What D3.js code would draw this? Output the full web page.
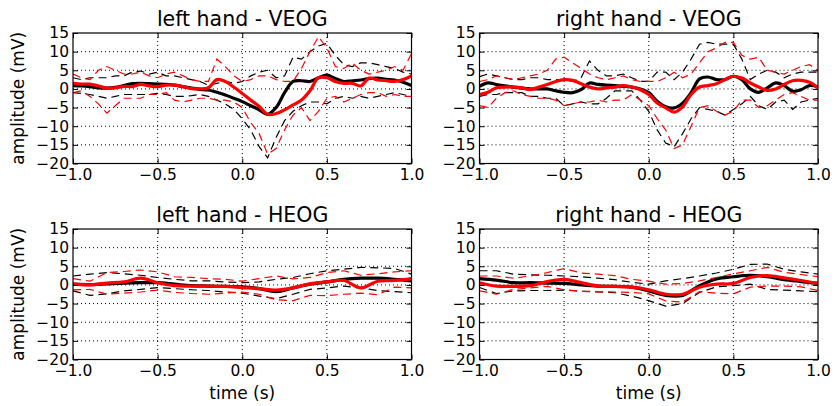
<!DOCTYPE html>
<html>
<head>
<meta charset="utf-8">
<script src="https://cdn.jsdelivr.net/npm/d3@7"></script>
<style>
  body { margin: 0; background: #fff; }
  svg { display: block; font-family: "DejaVu Sans", sans-serif; }
</style>
</head>
<body>
<div id="chart"></div>
<script>
// time axes (s)
const timeFine = [-1.00,-0.95,-0.90,-0.85,-0.80,-0.75,-0.70,-0.65,-0.60,-0.55,-0.50,-0.45,-0.40,-0.35,-0.30,-0.25,-0.20,-0.15,-0.10,-0.05,
  0.00,0.05,0.10,0.15,0.20,0.25,0.30,0.35,0.40,0.45,0.50,0.55,0.60,0.65,0.70,0.75,0.80,0.85,0.90,0.95,1.00];
const timeCoarse = [-1.0,-0.9,-0.8,-0.7,-0.6,-0.5,-0.4,-0.3,-0.2,-0.1,0.0,0.1,0.2,0.3,0.4,0.5,0.6,0.7,0.8,0.9,1.0];

const xTicks = [-1.0, -0.5, 0.0, 0.5, 1.0];
const yTicks = [-20, -15, -10, -5, 0, 5, 10, 15];
const panelTitles = ["left hand - VEOG", "right hand - VEOG", "left hand - HEOG", "right hand - HEOG"];

// left hand - VEOG
const leftVeogBlackMean = [0.9,0.8,0.6,0.3,0.2,0.4,0.9,1.4,1.5,1.4,1.3,1.2,1.0,0.6,0.2,-0.1,-0.3,-0.9,-1.6,-2.5,
  -3.4,-4.5,-5.6,-6.8,-5.0,-1.0,2.0,2.2,2.0,3.0,3.7,2.8,2.0,2.2,2.4,2.8,2.9,2.6,2.4,1.8,0.9];
const leftVeogBlackUpper = [3.0,2.5,3.0,3.0,3.0,3.5,3.5,4.5,4.8,4.0,4.5,3.5,3.5,3.0,2.5,2.0,1.0,1.5,2.0,1.5,
  2.0,3.5,4.5,5.0,3.0,3.5,8.5,8.0,10.0,11.5,12.2,9.0,6.5,6.0,7.0,7.0,6.5,6.0,5.5,4.5,4.0];
const leftVeogBlackLower = [-1.0,-1.2,-1.5,-2.0,-2.5,-2.0,-1.5,-1.5,-1.5,-1.5,-1.2,-1.5,-2.0,-2.0,-1.8,-1.5,-2.0,-3.0,-4.0,-5.5,
  -8.0,-11.0,-15.5,-18.5,-13.0,-8.5,-6.0,-4.5,-3.5,-3.5,-4.0,-2.5,-2.0,-2.5,-2.0,-2.5,-2.0,-1.5,-1.0,-1.5,-2.0];
const leftVeogRedMean = [1.5,1.3,1.3,0.8,0.2,0.3,0.7,0.6,1.2,0.8,0.6,1.0,1.0,0.6,0.1,0.0,0.3,2.5,2.0,0.5,
  -1.2,-3.0,-4.7,-6.8,-6.6,-5.6,-4.3,-3.0,-0.5,3.0,3.0,2.0,1.5,1.5,0.8,2.9,2.4,2.2,2.0,2.5,3.5];
const leftVeogRedUpper = [4.0,3.0,2.5,5.0,6.0,5.0,4.0,4.0,4.5,3.5,3.0,4.0,4.5,3.5,2.5,2.0,2.0,8.0,6.0,3.5,
  2.0,2.5,3.5,3.5,2.5,2.0,2.0,5.5,10.0,14.0,11.0,6.0,5.5,7.0,5.0,4.0,4.5,5.0,6.0,5.0,9.5];
const leftVeogRedLower = [-1.0,-0.5,-2.0,-4.0,-6.5,-4.5,-2.5,-2.5,-2.5,-1.5,-1.5,-1.0,-3.0,-3.5,-3.0,-2.5,-2.5,-3.0,-3.0,-3.5,
  -5.0,-9.0,-12.0,-17.5,-16.0,-11.0,-7.0,-5.0,-8.5,-6.0,-2.5,-2.0,-3.5,-2.5,-1.5,-1.0,-1.0,-2.0,-1.5,-2.0,-2.0];

// right hand - VEOG
const rightVeogBlackMean = [0.7,1.6,1.2,0.8,0.5,0.2,0.0,0.0,0.0,-0.5,-0.9,-1.0,-0.2,1.6,1.2,1.0,0.9,0.7,0.5,0.0,
  -1.0,-3.3,-4.8,-5.1,-3.8,-1.0,2.7,3.2,2.5,2.5,3.4,2.5,0.0,-0.9,0.3,1.6,0.9,-0.6,-0.2,0.9,0.5];
const rightVeogBlackUpper = [3.3,4.0,3.5,3.0,2.5,2.5,3.0,3.0,2.5,2.5,2.5,2.0,3.0,7.5,5.0,3.5,3.5,4.0,3.0,2.0,
  2.0,4.5,4.5,2.5,4.5,8.0,12.0,12.5,12.0,12.0,12.0,8.0,2.5,4.0,5.0,4.5,3.0,4.0,4.5,4.5,4.5];
const rightVeogBlackLower = [-2.0,-1.5,-1.5,-1.0,-1.0,-1.0,-2.0,-2.0,-2.5,-2.5,-4.5,-4.0,-3.5,-4.0,-4.0,-2.5,-0.5,-0.5,-0.5,-3.0,
  -6.0,-11.0,-14.5,-15.5,-12.0,-8.0,-5.0,-5.5,-6.0,-7.0,-5.5,-4.0,-2.0,-4.5,-5.5,-3.5,-3.0,-5.5,-3.5,-3.0,-2.5];
const rightVeogRedMean = [-1.5,-0.9,0.3,0.5,0.5,0.3,-0.2,0.5,1.2,2.0,2.5,2.3,1.4,0.5,0.0,0.3,0.5,0.9,0.5,-0.2,
  -1.5,-3.8,-5.1,-6.2,-4.8,-1.5,0.5,0.9,1.4,2.5,3.4,2.9,1.6,0.5,-0.4,0.0,1.2,2.2,2.3,1.8,0.3];
const rightVeogRedUpper = [2.0,2.5,3.5,3.0,2.5,3.0,3.5,4.0,5.0,8.0,8.5,7.0,5.5,4.0,3.0,2.5,3.0,3.5,2.5,2.0,
  2.0,2.0,3.0,4.5,3.0,4.0,7.0,10.0,11.0,12.5,12.5,9.0,8.0,8.5,5.0,4.5,4.0,5.0,6.0,6.5,5.0];
const rightVeogRedLower = [-4.5,-5.0,-2.5,-1.0,-0.5,-1.5,-2.0,-2.5,-2.5,-3.0,-4.5,-4.0,-3.5,-3.5,-3.0,-3.5,-3.0,-3.0,-1.5,-3.0,
  -4.5,-8.0,-11.0,-16.0,-15.0,-10.0,-5.0,-4.5,-6.0,-7.0,-6.0,-3.0,-3.0,-5.0,-4.5,-3.0,-1.5,-1.0,-2.0,-3.0,-3.0];

// left hand - HEOG
const leftHeogBlackMean = [0.2,0.1,0.3,0.5,0.6,0.6,0.2,-0.2,-0.3,-0.4,-0.5,-1.0,-1.8,-0.8,0.2,0.8,1.5,1.8,1.8,1.5,1.1];
const leftHeogBlackUpper = [2.4,2.9,3.3,3.0,2.6,2.0,1.5,1.1,1.1,0.8,0.6,0.8,1.5,2.0,3.0,3.8,4.2,4.7,4.6,4.4,2.9];
const leftHeogBlackLower = [-1.6,-2.8,-2.4,-1.6,-1.2,-0.7,-1.0,-1.3,-1.5,-1.9,-2.2,-3.0,-3.7,-2.5,-1.2,-0.8,-0.3,-0.8,-1.5,-1.8,-2.1];
const leftHeogRedMean = [0.2,0.0,0.5,0.8,1.8,0.6,-0.2,-0.3,-0.3,-0.4,-0.7,-1.0,-1.4,-0.8,0.3,0.8,1.2,-0.8,1.0,1.2,1.7];
const leftHeogRedUpper = [1.7,1.0,3.3,3.6,4.0,3.5,2.2,2.0,1.7,1.5,1.0,1.7,2.4,1.6,2.0,3.3,3.8,2.6,3.0,3.5,3.8];
const leftHeogRedLower = [-1.3,-1.2,-2.5,-2.2,-1.9,-1.4,-2.0,-2.3,-2.5,-2.2,-1.9,-2.5,-4.0,-4.2,-2.8,-2.9,-2.5,-2.2,-2.6,-0.6,-0.8];

// right hand - HEOG
const rightHeogBlackMean = [1.7,1.3,0.6,0.6,0.5,0.4,0.0,-0.3,-0.4,-0.6,-1.6,-2.8,-2.8,-0.2,1.6,2.2,2.6,2.2,1.4,0.9,0.4];
const rightHeogBlackUpper = [3.8,3.8,2.9,2.7,2.6,2.4,2.2,1.8,1.4,0.7,0.2,1.1,1.7,2.4,3.2,4.2,5.5,5.6,4.2,3.5,2.9];
const rightHeogBlackLower = [-0.7,-2.3,-1.6,-1.5,-1.5,-1.4,-1.7,-1.9,-2.1,-3.0,-4.2,-5.7,-5.0,-2.0,-0.5,-0.2,0.2,-1.2,-1.4,-1.6,-1.8];
const rightHeogRedMean = [0.6,-0.3,-0.4,-0.2,0.9,1.5,0.6,-0.3,-0.4,-0.6,-1.3,-2.5,-2.5,-0.6,0.2,0.4,2.0,2.5,1.9,1.2,0.4];
const rightHeogRedUpper = [2.4,2.4,1.8,2.4,3.3,4.4,3.2,2.9,2.5,1.5,1.0,0.2,0.4,1.1,2.0,3.0,3.8,4.7,3.4,2.8,2.2];
const rightHeogRedLower = [-1.6,-2.5,-1.2,-0.8,-0.4,-1.3,-1.7,-1.8,-1.9,-2.0,-2.4,-4.3,-4.6,-1.8,-2.2,-2.4,-0.6,-0.3,-0.3,-0.5,-1.5];

const panels = [
  { title: panelTitles[0], t: timeFine, col: 0, row: 0,
    black: [leftVeogBlackMean, leftVeogBlackUpper, leftVeogBlackLower],
    red: [leftVeogRedMean, leftVeogRedUpper, leftVeogRedLower] },
  { title: panelTitles[1], t: timeFine, col: 1, row: 0,
    black: [rightVeogBlackMean, rightVeogBlackUpper, rightVeogBlackLower],
    red: [rightVeogRedMean, rightVeogRedUpper, rightVeogRedLower] },
  { title: panelTitles[2], t: timeCoarse, col: 0, row: 1,
    black: [leftHeogBlackMean, leftHeogBlackUpper, leftHeogBlackLower],
    red: [leftHeogRedMean, leftHeogRedUpper, leftHeogRedLower] },
  { title: panelTitles[3], t: timeCoarse, col: 1, row: 1,
    black: [rightHeogBlackMean, rightHeogBlackUpper, rightHeogBlackLower],
    red: [rightHeogRedMean, rightHeogRedUpper, rightHeogRedLower] },
];

const width = 836, height = 406;
const lefts = [73, 479.5], tops = [33, 229];
const pw = 338.5, ph = 130.5;

const svg = d3.select("#chart").append("svg")
  .attr("width", width)
  .attr("height", height);
svg.append("rect").attr("width", width).attr("height", height).attr("fill", "white");

const fmtX = d => d3.format(".1f")(d).replace("-", "\u2212");
const fmtY = d => String(d).replace("-", "\u2212");

panels.forEach((p, i) => {
  const x = d3.scaleLinear().domain([-1, 1]).range([0, pw]);
  const y = d3.scaleLinear().domain([-20, 15]).range([ph, 0]);
  const g = svg.append("g").attr("transform", `translate(${lefts[p.col]},${tops[p.row]})`);

  const clipId = "clip" + i;
  g.append("clipPath").attr("id", clipId)
    .append("rect").attr("width", pw).attr("height", ph);

  // grid
  g.append("g").selectAll("line").data(yTicks.slice(1, -1)).join("line")
    .attr("x1", 0).attr("x2", pw)
    .attr("y1", d => y(d)).attr("y2", d => y(d))
    .attr("stroke", "black").attr("stroke-width", 1)
    .attr("stroke-dasharray", "1,3");
  g.append("g").selectAll("line").data(xTicks.slice(1, -1)).join("line")
    .attr("y1", 0).attr("y2", ph)
    .attr("x1", d => x(d)).attr("x2", d => x(d))
    .attr("stroke", "black").attr("stroke-width", 1)
    .attr("stroke-dasharray", "1,3");

  const solid = d3.line().x((d, k) => x(p.t[k])).y(d => y(d)).curve(d3.curveCatmullRom);
  const dashed = d3.line().x((d, k) => x(p.t[k])).y(d => y(d));

  const lines = g.append("g").attr("clip-path", `url(#${clipId})`);
  [["black", p.black], ["red", p.red]].forEach(([color, set]) => {
    lines.append("path").attr("d", solid(set[0]))
      .attr("fill", "none").attr("stroke", color).attr("stroke-width", 3.2)
      .attr("stroke-linejoin", "round");
    set.slice(1).forEach(s => {
      lines.append("path").attr("d", dashed(s))
        .attr("fill", "none").attr("stroke", color).attr("stroke-width", 1.2)
        .attr("stroke-dasharray", "8,5");
    });
  });

  // axes with inward ticks
  const tickStyle = sel => {
    sel.select(".domain").remove();
    sel.selectAll(".tick line").attr("stroke", "black");
    sel.selectAll(".tick text").attr("font-size", "15.5px").attr("fill", "black")
      .attr("font-family", "DejaVu Sans");
  };
  g.append("g").attr("transform", `translate(0,${ph})`)
    .call(d3.axisBottom(x).tickValues(xTicks).tickFormat(fmtX).tickSizeInner(-5).tickSizeOuter(0).tickPadding(5))
    .call(tickStyle);
  g.append("g")
    .call(d3.axisTop(x).tickValues(xTicks).tickFormat("").tickSizeInner(-5).tickSizeOuter(0))
    .call(tickStyle);
  g.append("g")
    .call(d3.axisLeft(y).tickValues(yTicks).tickFormat(fmtY).tickSizeInner(-5).tickSizeOuter(0).tickPadding(4))
    .call(tickStyle);
  g.append("g").attr("transform", `translate(${pw},0)`)
    .call(d3.axisRight(y).tickValues(yTicks).tickFormat("").tickSizeInner(-5).tickSizeOuter(0))
    .call(tickStyle);

  g.append("rect").attr("width", pw).attr("height", ph)
    .attr("fill", "none").attr("stroke", "black").attr("stroke-width", 1.2);

  g.append("text").attr("x", pw / 2).attr("y", -7)
    .attr("text-anchor", "middle").attr("font-size", "20.5px").text(p.title);

  if (p.col === 0) {
    g.append("text")
      .attr("transform", `translate(-49,${ph / 2}) rotate(-90)`)
      .attr("text-anchor", "middle").attr("font-size", "17px")
      .text("amplitude (mV)");
  }
  if (p.row === 1) {
    g.append("text").attr("x", pw / 2).attr("y", ph + 39)
      .attr("text-anchor", "middle").attr("font-size", "17px")
      .text("time (s)");
  }
});
</script>
</body>
</html>
